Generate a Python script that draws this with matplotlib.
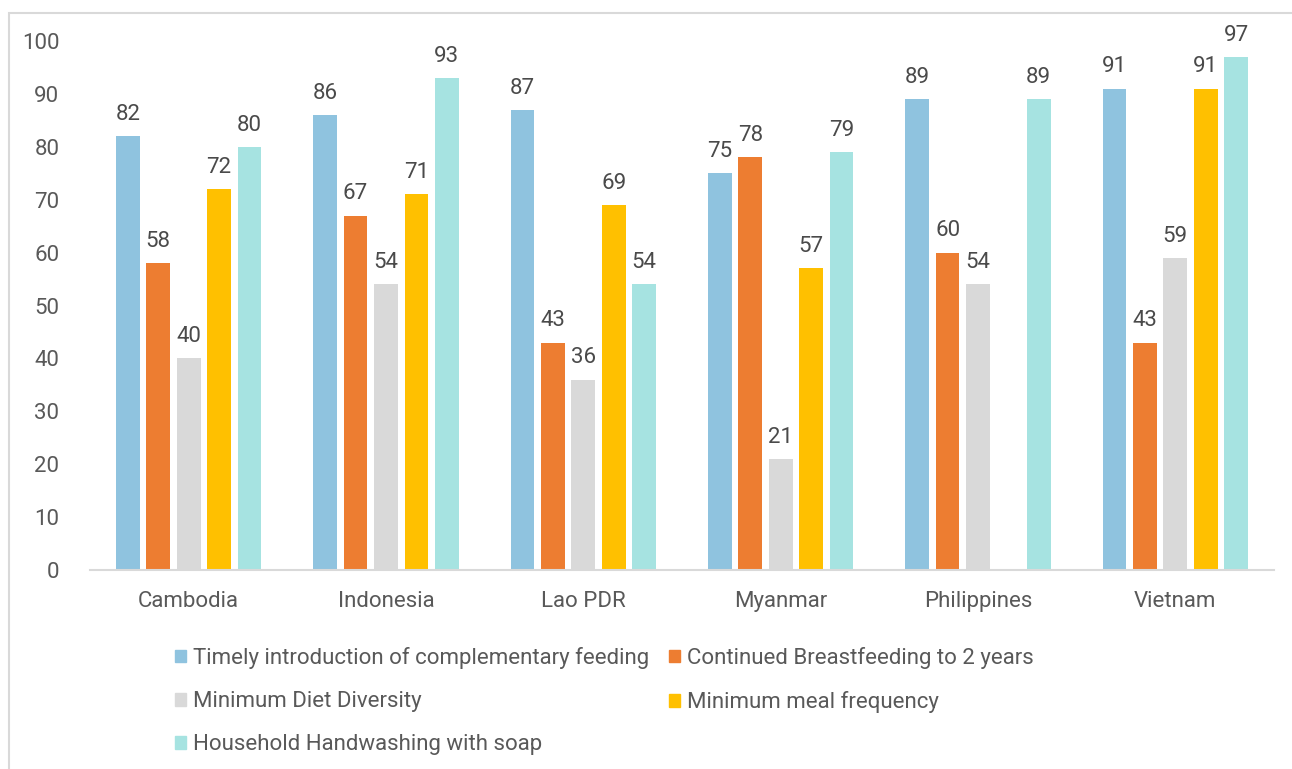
import matplotlib.pyplot as plt
import matplotlib.patches as mpatches
import numpy as np

plt.rcParams['font.family'] = ['Roboto', 'DejaVu Sans']

countries = ['Cambodia', 'Indonesia', 'Lao PDR', 'Myanmar', 'Philippines', 'Vietnam']
series_names = ['Timely introduction of complementary feeding',
                'Continued Breastfeeding to 2 years',
                'Minimum Diet Diversity',
                'Minimum meal frequency',
                'Household Handwashing with soap']
timely = [82, 86, 87, 75, 89, 91]
breastfeeding = [58, 67, 43, 78, 60, 43]
diet_diversity = [40, 54, 36, 21, 54, 59]
meal_frequency = [72, 71, 69, 57, None, 91]
handwashing = [80, 93, 54, 79, 89, 97]
colors = ['#8FC3DF', '#ED7D31', '#D9D9D9', '#FFC000', '#A6E3E1']

series = [timely, breastfeeding, diet_diversity, meal_frequency, handwashing]
text_color = '#595959'

fig = plt.figure(figsize=(12.92, 7.69), dpi=100)
ax = fig.add_axes([90 / 1292, 1 - 570 / 769, (1274 - 90) / 1292, (570 - 41) / 769])

x = np.arange(len(countries))
bar_w = 0.12
step = 0.154
handles = []
for i, (vals, c) in enumerate(zip(series, colors)):
    pos = x + (i - 2) * step
    for p, v in zip(pos, vals):
        if v is None:
            continue
        ax.bar(p, v, width=bar_w, color=c, zorder=2)
        ax.annotate(str(v), (p, v), xytext=(0, 8), textcoords='offset points',
                    ha='center', va='bottom', fontsize=16, color='#4a4a4a')
    handles.append(mpatches.Patch(color=c, label=series_names[i]))

ax.set_xlim(-0.5, len(countries) - 0.5)
ax.set_ylim(0, 100)
ax.set_yticks(range(0, 101, 10))
ax.set_xticks(x)
ax.set_xticklabels(countries)
ax.tick_params(length=0, labelsize=16, colors=text_color)
ax.tick_params(axis='x', pad=15)
ax.tick_params(axis='y', pad=22)
for s in ['top', 'right', 'left']:
    ax.spines[s].set_visible(False)
ax.spines['bottom'].set_color('#D9D9D9')
ax.spines['bottom'].set_linewidth(1.5)

order = [0, 2, 4, 1, 3]
leg = fig.legend([handles[k] for k in order], [series_names[k] for k in order],
                 ncol=2, loc='upper left', bbox_to_anchor=(166 / 1292, 1 - 638 / 769),
                 frameon=False, fontsize=16, handlelength=0.5, handleheight=0.5,
                 handletextpad=0.32, columnspacing=0.9, labelspacing=1.0, borderaxespad=0)
for t in leg.get_texts():
    t.set_color(text_color)

border = mpatches.Rectangle((9 / 1292, -0.1), 1.2, 1.1 - 13 / 769, transform=fig.transFigure,
                            fill=False, edgecolor='#D9D9D9', linewidth=1.5)
fig.patches.append(border)

fig.savefig('out.png', dpi=100)
